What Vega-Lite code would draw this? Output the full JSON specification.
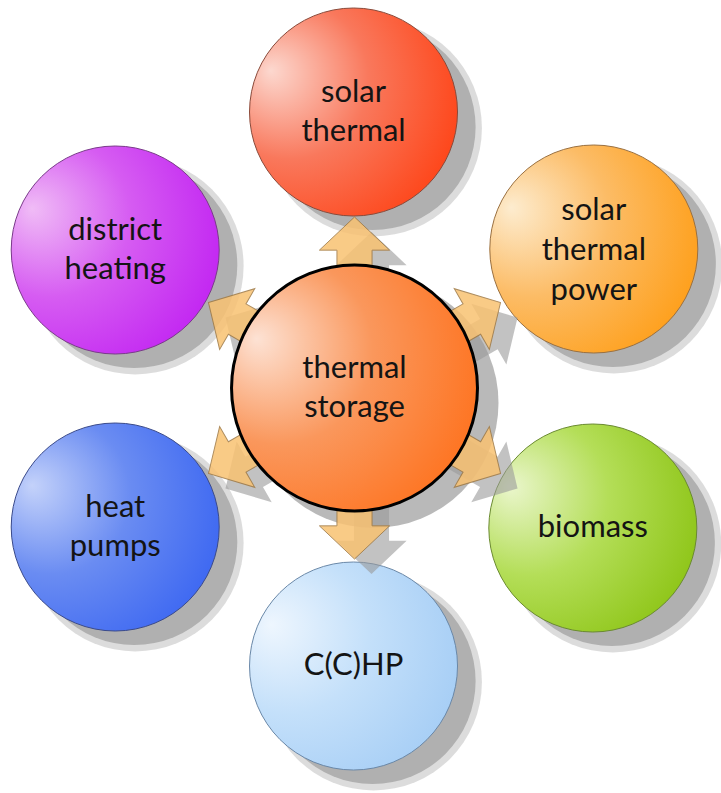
{
  "$schema": "https://vega.github.io/schema/vega-lite/v6.json",
  "width": 721,
  "height": 793,
  "autosize": {"type": "fit", "contains": "padding"},
  "padding": 0,
  "background": "white",
  "config": {"view": {"stroke": null}},
  "datasets": {
    "nodes": [
      {"name": "solar thermal", "label": "solar\nthermal", "x": 359, "y": 112},
      {"name": "solar thermal power", "label": "solar\nthermal\npower", "x": 603, "y": 249},
      {"name": "biomass", "label": "biomass", "x": 602, "y": 528},
      {"name": "C(C)HP", "label": "C(C)HP", "x": 359, "y": 666},
      {"name": "heat pumps", "label": "heat\npumps", "x": 117, "y": 527},
      {"name": "district heating", "label": "district\nheating", "x": 117, "y": 250},
      {"name": "thermal storage", "label": "thermal\nstorage", "x": 360, "y": 388}
    ],
    "arrows": [
      {"to": "solar thermal", "x": 360, "y": 256, "angle": 0},
      {"to": "solar thermal power", "x": 474, "y": 322, "angle": 60},
      {"to": "biomass", "x": 474, "y": 454, "angle": 120},
      {"to": "C(C)HP", "x": 360, "y": 520, "angle": 180},
      {"to": "heat pumps", "x": 246, "y": 454, "angle": 240},
      {"to": "district heating", "x": 246, "y": 322, "angle": 300}
    ]
  },
  "encoding": {
    "x": {"field": "x", "type": "quantitative", "scale": {"domain": [0, 721], "nice": false, "zero": false}, "axis": null},
    "y": {"field": "y", "type": "quantitative", "scale": {"domain": [0, 793], "reverse": true, "nice": false, "zero": false}, "axis": null}
  },
  "layer": [
    {
      "data": {"name": "nodes"},
      "transform": [{"filter": "datum.name !== 'thermal storage'"}],
      "mark": {"type": "point", "shape": "circle", "filled": true, "size": 47000, "fill": "#c0c0c0", "opacity": 0.55, "xOffset": 20, "yOffset": 16, "strokeWidth": 0}
    },
    {
      "data": {"name": "nodes"},
      "transform": [{"filter": "datum.name !== 'thermal storage'"}],
      "mark": {"type": "point", "shape": "circle", "filled": true, "size": 42500, "fill": "#a8a8a8", "opacity": 0.85, "xOffset": 19, "yOffset": 15, "strokeWidth": 0}
    },
    {
      "data": {"name": "nodes"},
      "transform": [{"filter": "datum.name === 'solar thermal'"}],
      "mark": {"type": "point", "shape": "circle", "filled": true, "size": 43264, "opacity": 1, "stroke": "#8a4a3a", "strokeWidth": 1,
        "fill": {"gradient": "radial", "x1": 0.1, "y1": 0.3, "r1": 0, "x2": 0.3, "y2": 0.4, "r2": 0.85,
          "stops": [{"offset": 0, "color": "#fcd8cf"}, {"offset": 0.45, "color": "#f9785c"}, {"offset": 1, "color": "#ff3a0a"}]}}
    },
    {
      "data": {"name": "nodes"},
      "transform": [{"filter": "datum.name === 'solar thermal power'"}],
      "mark": {"type": "point", "shape": "circle", "filled": true, "size": 43264, "opacity": 1, "stroke": "#9a7040", "strokeWidth": 1,
        "fill": {"gradient": "radial", "x1": 0.1, "y1": 0.3, "r1": 0, "x2": 0.3, "y2": 0.4, "r2": 0.85,
          "stops": [{"offset": 0, "color": "#fdeccf"}, {"offset": 0.45, "color": "#fcbc66"}, {"offset": 1, "color": "#ff990a"}]}}
    },
    {
      "data": {"name": "nodes"},
      "transform": [{"filter": "datum.name === 'biomass'"}],
      "mark": {"type": "point", "shape": "circle", "filled": true, "size": 43264, "opacity": 1, "stroke": "#6a8a30", "strokeWidth": 1,
        "fill": {"gradient": "radial", "x1": 0.1, "y1": 0.3, "r1": 0, "x2": 0.3, "y2": 0.4, "r2": 0.85,
          "stops": [{"offset": 0, "color": "#eaf6cc"}, {"offset": 0.45, "color": "#b4de58"}, {"offset": 1, "color": "#86c00a"}]}}
    },
    {
      "data": {"name": "nodes"},
      "transform": [{"filter": "datum.name === 'C(C)HP'"}],
      "mark": {"type": "point", "shape": "circle", "filled": true, "size": 43264, "opacity": 1, "stroke": "#6a88a8", "strokeWidth": 1,
        "fill": {"gradient": "radial", "x1": 0.1, "y1": 0.3, "r1": 0, "x2": 0.3, "y2": 0.4, "r2": 0.85,
          "stops": [{"offset": 0, "color": "#eef6fe"}, {"offset": 0.45, "color": "#c4e0fa"}, {"offset": 1, "color": "#a0caf4"}]}}
    },
    {
      "data": {"name": "nodes"},
      "transform": [{"filter": "datum.name === 'heat pumps'"}],
      "mark": {"type": "point", "shape": "circle", "filled": true, "size": 43264, "opacity": 1, "stroke": "#3a4a8a", "strokeWidth": 1,
        "fill": {"gradient": "radial", "x1": 0.1, "y1": 0.3, "r1": 0, "x2": 0.3, "y2": 0.4, "r2": 0.85,
          "stops": [{"offset": 0, "color": "#c4d2fa"}, {"offset": 0.45, "color": "#6a8cf2"}, {"offset": 1, "color": "#3460f2"}]}}
    },
    {
      "data": {"name": "nodes"},
      "transform": [{"filter": "datum.name === 'district heating'"}],
      "mark": {"type": "point", "shape": "circle", "filled": true, "size": 43264, "opacity": 1, "stroke": "#7a3a8a", "strokeWidth": 1,
        "fill": {"gradient": "radial", "x1": 0.1, "y1": 0.3, "r1": 0, "x2": 0.3, "y2": 0.4, "r2": 0.85,
          "stops": [{"offset": 0, "color": "#f0bcf6"}, {"offset": 0.45, "color": "#d65cf2"}, {"offset": 1, "color": "#be1af2"}]}}
    },
    {
      "data": {"name": "nodes"},
      "transform": [{"filter": "datum.name === 'thermal storage'"}],
      "mark": {"type": "point", "shape": "circle", "filled": true, "size": 62500, "fill": "#a8a8a8", "opacity": 0.8, "xOffset": 19, "yOffset": 15, "strokeWidth": 0}
    },
    {
      "data": {"name": "arrows"},
      "mark": {"type": "point", "filled": true, "size": 6084, "opacity": 0.6, "fill": "#9a9a9a", "strokeWidth": 0, "xOffset": 17, "yOffset": 15,
        "shape": "M0,-1L0.9,-0.15L0.45,-0.15L0.45,1L-0.45,1L-0.45,-0.15L-0.9,-0.15Z"},
      "encoding": {"angle": {"field": "angle", "type": "quantitative", "scale": {"domain": [0, 360], "range": [0, 360]}}}
    },
    {
      "data": {"name": "arrows"},
      "mark": {"type": "point", "filled": true, "size": 6084, "opacity": 0.85, "fill": "#f9c272", "stroke": "#a07a44", "strokeWidth": 1,
        "shape": "M0,-1L0.9,-0.15L0.45,-0.15L0.45,1L-0.45,1L-0.45,-0.15L-0.9,-0.15Z"},
      "encoding": {"angle": {"field": "angle", "type": "quantitative", "scale": {"domain": [0, 360], "range": [0, 360]}}}
    },
    {
      "data": {"name": "nodes"},
      "transform": [{"filter": "datum.name === 'thermal storage'"}],
      "mark": {"type": "point", "shape": "circle", "filled": true, "size": 60500, "opacity": 1, "stroke": "#000000", "strokeWidth": 3,
        "fill": {"gradient": "radial", "x1": 0.1, "y1": 0.3, "r1": 0, "x2": 0.3, "y2": 0.4, "r2": 0.85,
          "stops": [{"offset": 0, "color": "#fde2d4"}, {"offset": 0.45, "color": "#fa975c"}, {"offset": 1, "color": "#ff6c14"}]}}
    },
    {
      "data": {"name": "nodes"},
      "transform": [{"filter": "datum.name === 'biomass' || datum.name === 'C(C)HP'"}],
      "mark": {"type": "text", "font": "Lato", "fontSize": 31, "color": "#141414", "align": "center", "baseline": "middle", "lineBreak": "\n", "lineHeight": 39},
      "encoding": {"text": {"field": "label", "type": "nominal"}}
    },
    {
      "data": {"name": "nodes"},
      "transform": [{"filter": "datum.name === 'solar thermal' || datum.name === 'heat pumps' || datum.name === 'district heating' || datum.name === 'thermal storage'"}],
      "mark": {"type": "text", "font": "Lato", "fontSize": 31, "color": "#141414", "align": "center", "baseline": "middle", "lineBreak": "\n", "lineHeight": 39, "dy": -19},
      "encoding": {"text": {"field": "label", "type": "nominal"}}
    },
    {
      "data": {"name": "nodes"},
      "transform": [{"filter": "datum.name === 'solar thermal power'"}],
      "mark": {"type": "text", "font": "Lato", "fontSize": 31, "color": "#141414", "align": "center", "baseline": "middle", "lineBreak": "\n", "lineHeight": 40, "dy": -38},
      "encoding": {"text": {"field": "label", "type": "nominal"}}
    }
  ]
}
